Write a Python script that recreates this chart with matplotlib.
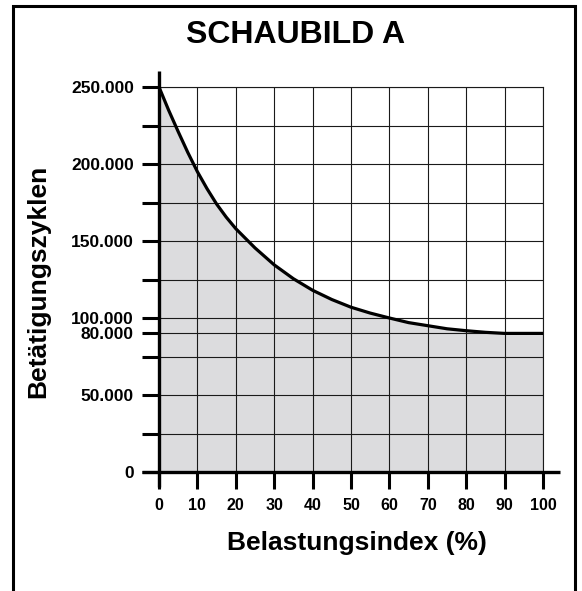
import numpy as np
import matplotlib
matplotlib.use("Agg")
import matplotlib.pyplot as plt
from matplotlib.patches import Rectangle

plt.rcParams['font.family'] = ['Liberation Sans', 'DejaVu Sans']
plt.rcParams['font.weight'] = 'bold'

# Belastungsindex in % and the matching number of cycles
load_pct = [0, 2.5, 5, 7.5, 10, 12.5, 15, 17.5, 20, 25, 30, 35, 40, 45, 50, 55,
            60, 65, 70, 75, 80, 85, 90, 95, 100]
cycles = [250000, 235000, 221000, 207500, 195000, 184000, 174000, 165500, 158000,
          145500, 134500, 125500, 118000, 112000, 107000, 103200,
          100000, 94000, 90000, 86000, 83500, 81400, 80000, 80000, 80000]

x_ticks = [0, 10, 20, 30, 40, 50, 60, 70, 80, 90, 100]
y_ticks = [0, 25000, 50000, 75000, 80000, 100000, 125000, 150000, 175000, 200000, 225000, 250000]
y_labels = ['0', '', '50.000', '', '80.000', '100.000', '', '150.000', '', '200.000', '', '250.000']

# the y axis is stretched between 75.000 and 100.000 so the 80.000 mark sits higher
knots_val = [-1e7, 0, 75000, 80000, 100000, 250000, 1e7]
knots_pos = [-1e7, 0, 75000, 90000, 100000, 250000, 1e7]


def fwd(v):
    return np.interp(v, knots_val, knots_pos)


def inv(p):
    return np.interp(p, knots_pos, knots_val)


fig = plt.figure(figsize=(5.82, 5.91), dpi=100)
ax = fig.add_axes([159 / 582, 119 / 591, 384 / 582, 385 / 591])
ax.set_yscale('function', functions=(fwd, inv))
ax.set_xlim(0, 100)
ax.set_ylim(0, 250000)

ax.fill_between(load_pct, 0, cycles, color='#dcdcde', lw=0)
ax.plot(load_pct, cycles, color='black', lw=2.3, solid_joinstyle='round', zorder=4)

ax.set_xticks(x_ticks)
ax.set_xticklabels([str(t) for t in x_ticks])
ax.set_yticks(y_ticks)
ax.set_yticklabels(y_labels)
ax.minorticks_off()
ax.tick_params(axis='both', length=12, width=2.2, color='black', direction='out')
ax.tick_params(axis='x', pad=7, labelsize=11.5)
ax.tick_params(axis='y', pad=6, labelsize=12.5)
for lab in ax.get_xticklabels() + ax.get_yticklabels():
    lab.set_fontweight('bold')

ax.grid(True, color='#1a1a1a', lw=0.8)
for side in ['top', 'right']:
    ax.spines[side].set_color('#1a1a1a')
    ax.spines[side].set_linewidth(0.8)
for side in ['left', 'bottom']:
    ax.spines[side].set_visible(False)

# heavy axis lines running a little past the plot area
ax.plot([0, 0], [-15 / 385, 1 + 16 / 385], color='black', lw=2.4,
        transform=ax.transAxes, clip_on=False, zorder=5, solid_capstyle='butt')
ax.plot([-17 / 384, 1 + 17 / 384], [0, 0], color='black', lw=2.4,
        transform=ax.transAxes, clip_on=False, zorder=5, solid_capstyle='butt')

fig.text(296 / 582, 1 - 35 / 591, 'SCHAUBILD A', ha='center', va='center',
         fontsize=23, fontweight='bold')
fig.text(38 / 582, 1 - 281 / 591, 'Betätigungszyklen', ha='center', va='center',
         rotation=90, fontsize=19, fontweight='bold')
fig.text(357 / 582, 1 - 543 / 591, 'Belastungsindex (%)', ha='center', va='center',
         fontsize=19, fontweight='bold')

# frame around the whole drawing, open at the bottom edge
fig.patches.append(Rectangle((13 / 582, -0.05), (575 - 13) / 582, 1 - 6 / 591 + 0.05,
                             transform=fig.transFigure, fill=False, lw=2.2,
                             edgecolor='black'))

fig.savefig('out.png', dpi=100)
